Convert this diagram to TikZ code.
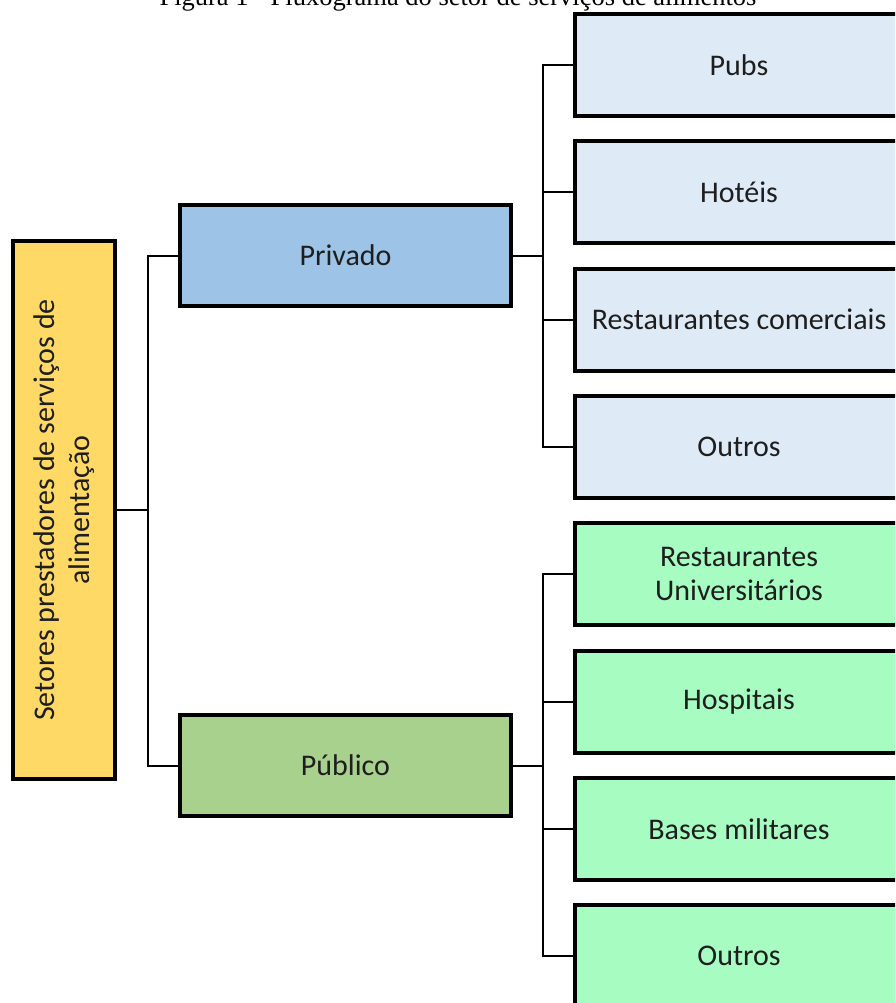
\documentclass[tikz,border=0pt]{standalone}
\usepackage{fontspec}
\setmainfont{Carlito}
\newfontfamily\titlefont{Liberation Serif}
\definecolor{rootc}{HTML}{FFD966}
\definecolor{privc}{HTML}{9DC3E6}
\definecolor{pubc}{HTML}{A9D18E}
\definecolor{lblue}{HTML}{DEEBF7}
\definecolor{mint}{HTML}{A7FCC1}
\definecolor{txt}{HTML}{1E1E1E}
\begin{document}
\begin{tikzpicture}[x=1pt,y=-1pt,
  box/.style={draw=black, line width=4pt, rectangle, inner sep=0pt, text=txt,
    font=\fontsize{30}{34}\selectfont, align=center},
  mid/.style={box, minimum width=331pt, minimum height=101pt},
  leaf/.style={box, minimum width=328pt, minimum height=102pt},
  conn/.style={draw=black, line width=2pt}]
\useasboundingbox (0,0) rectangle (895,1003);
\clip (0,0) rectangle (895,1003);
\node[anchor=base, font=\titlefont\fontsize{26.5}{30}\selectfont] (title) at (458,6) {Figura 1 - Fluxograma do setor de serviços de alimentos};
\node[box, fill=rootc, minimum width=102pt, minimum height=538pt] (root) at (64,510) {};
\node[rotate=90, text=txt, font=\fontsize{30}{35}\selectfont, align=center] (roottext) at (64,510) {Setores prestadores de serviços de\\alimentação};
\node[mid, fill=privc] (priv) at (345.5,255.5) {Privado};
\node[mid, fill=pubc] (pub) at (345.5,765.5) {Público};
\node[leaf, fill=lblue] (a1) at (739,65) {Pubs};
\node[leaf, fill=lblue] (a2) at (739,192.3) {Hotéis};
\node[leaf, fill=lblue] (a3) at (739,319.6) {Restaurantes comerciais};
\node[leaf, fill=lblue] (a4) at (739,446.9) {Outros};
\node[leaf, fill=mint] (b1) at (739,574.2) {Restaurantes\\Universitários};
\node[leaf, fill=mint] (b2) at (739,701.5) {Hospitais};
\node[leaf, fill=mint] (b3) at (739,828.8) {Bases militares};
\node[leaf, fill=mint] (b4) at (739,956.1) {Outros};
\coordinate (j0) at (148,510);
\coordinate (j1) at (543,255.5);
\coordinate (j2) at (543,765.5);
\draw[conn] (root.east) -- (root.east -| j0);
\draw[conn] (priv.west) -- (priv.west -| j0) -- (pub.west -| j0) -- (pub.west);
\draw[conn] (priv.east) -- (j1);
\draw[conn] (a1.west) -- (a1.west -| j1) -- (a4.west -| j1) -- (a4.west);
\draw[conn] (a2.west) -- (a2.west -| j1);
\draw[conn] (a3.west) -- (a3.west -| j1);
\draw[conn] (pub.east) -- (j2);
\draw[conn] (b1.west) -- (b1.west -| j2) -- (b4.west -| j2) -- (b4.west);
\draw[conn] (b2.west) -- (b2.west -| j2);
\draw[conn] (b3.west) -- (b3.west -| j2);
\end{tikzpicture}
\end{document}
